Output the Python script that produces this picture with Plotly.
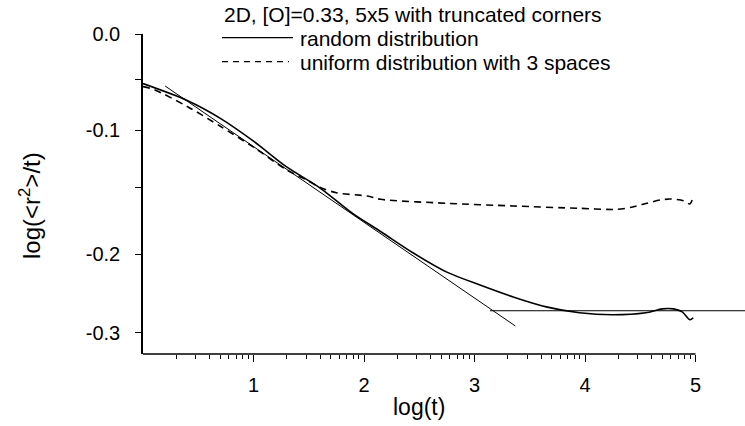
import numpy as np
import plotly.graph_objects as go

# ---- data ----
log_t_random = [0.0, 0.40, 0.70, 1.00, 1.30, 1.60, 1.90, 2.15, 2.45, 2.75, 3.05, 3.35,
                3.65, 3.95, 4.25, 4.55, 4.70, 4.80, 4.88, 4.95, 4.98]
y_random = [-0.050, -0.067, -0.085, -0.108, -0.134, -0.155, -0.181, -0.199, -0.221,
            -0.240, -0.253, -0.265, -0.275, -0.281, -0.283, -0.281, -0.277, -0.277,
            -0.280, -0.288, -0.286]

log_t_uniform = [0.0, 0.10, 0.40, 0.70, 1.00, 1.30, 1.48, 1.60, 1.75, 2.03, 2.15, 2.75,
                 3.35, 3.95, 4.29, 4.42, 4.56, 4.68, 4.77, 4.89, 4.95, 4.98]
y_uniform = [-0.053, -0.056, -0.073, -0.093, -0.114, -0.137, -0.147, -0.1545, -0.160,
             -0.1633, -0.1666, -0.1706, -0.1733, -0.1757, -0.1767, -0.1746, -0.1706,
             -0.1673, -0.1663, -0.168, -0.1713, -0.1633]

fit_steep_x = [0.20, 3.37]
fit_steep_y = [-0.0524, -0.2943]
fit_flat_x = [3.14, 5.45]
fit_flat_y = [-0.2789, -0.2789]

title_text = "2D, [O]=0.33, 5x5 with truncated corners"
series_names = ["random distribution", "uniform distribution with 3 spaces"]

x_major = [1, 2, 3, 4, 5]
x_major_text = ["1", "2", "3", "4", "5"]
y_major_ratio = [1.0, 0.8, 0.6, 0.5]
y_major_text = ["0.0", "-0.1", "-0.2", "-0.3"]
y_minor_ratio = [0.9, 0.7]

# ---- layout geometry ----
W, H = 745, 426
ML, MR, MT, MB = 143, 0, 34, 72
PW, PH = W - ML - MR, H - MT - MB
X_RANGE = [0, 5.448]
Y_RANGE = [-0.3225, 0.0]

def px_x(p):
    return (p - ML) / PW

def px_y(p):
    return (H - MB - p) / PH

FONT = "Liberation Sans, Arial, sans-serif"

x_minor = [d + np.log10(k) for d in range(5) for k in range(2, 10)]
y_major_vals = list(np.log10(y_major_ratio))
y_minor_vals = list(np.log10(y_minor_ratio))

fig = go.Figure()
fig.add_trace(go.Scatter(x=log_t_random, y=y_random, mode="lines",
                         line=dict(color="black", width=1.6, shape="spline", smoothing=0.8),
                         name=series_names[0], showlegend=False))
fig.add_trace(go.Scatter(x=log_t_uniform, y=y_uniform, mode="lines",
                         line=dict(color="black", width=1.6, dash="7px,5px", shape="spline", smoothing=0.8),
                         name=series_names[1], showlegend=False))
fig.add_trace(go.Scatter(x=fit_steep_x, y=fit_steep_y, mode="lines",
                         line=dict(color="black", width=1), showlegend=False))
fig.add_trace(go.Scatter(x=fit_flat_x, y=fit_flat_y, mode="lines",
                         line=dict(color="black", width=1), showlegend=False))

# bottom axis line spanning 0..5 only
fig.add_shape(type="line", xref="x", yref="paper", x0=0, x1=5, y0=0, y1=0,
              line=dict(color="black", width=1.5))

# legend samples
fig.add_shape(type="line", xref="paper", yref="paper", x0=px_x(222), x1=px_x(293),
              y0=px_y(37.7), y1=px_y(37.7), line=dict(color="black", width=1.2))
fig.add_shape(type="line", xref="paper", yref="paper", x0=px_x(222), x1=px_x(289),
              y0=px_y(61.7), y1=px_y(61.7), line=dict(color="black", width=1.2, dash="6px,5px"))

anns = [
    dict(text=title_text, x=px_x(222), y=px_y(14), size=21),
    dict(text=series_names[0], x=px_x(298), y=px_y(38.5), size=21),
    dict(text=series_names[1], x=px_x(298), y=px_y(62.5), size=21),
]
for a in anns:
    fig.add_annotation(text=a["text"], xref="paper", yref="paper", x=a["x"], y=a["y"],
                       xanchor="left", yanchor="middle", showarrow=False,
                       font=dict(family=FONT, size=a["size"], color="black"))

fig.add_annotation(text="log(t)", xref="x", yref="paper", x=2.5, y=px_y(407),
                   xanchor="center", yanchor="middle", showarrow=False,
                   font=dict(family=FONT, size=23, color="black"))
fig.add_annotation(text="log(&lt;r<sup>2</sup>&gt;/t)", xref="paper", yref="paper",
                   x=px_x(30), y=px_y(206), xanchor="center", yanchor="middle",
                   textangle=-90, showarrow=False,
                   font=dict(family=FONT, size=24, color="black"))

fig.update_layout(
    width=W, height=H,
    margin=dict(l=ML, r=MR, t=MT, b=MB, pad=0),
    paper_bgcolor="white", plot_bgcolor="white",
    font=dict(family=FONT, color="black"),
    showlegend=False,
    xaxis=dict(range=X_RANGE, showgrid=False, zeroline=False, showline=False,
               tickmode="array", tickvals=x_major, ticktext=x_major_text,
               ticks="outside", ticklen=7, tickwidth=1.2, tickcolor="black",
               ticklabelstandoff=6,
               tickfont=dict(family=FONT, size=20, color="black"),
               minor=dict(tickmode="array", tickvals=x_minor, ticks="outside",
                          ticklen=4, tickwidth=1, tickcolor="black", showgrid=False)),
    yaxis=dict(range=Y_RANGE, showgrid=False, zeroline=False, showline=True,
               linecolor="black", linewidth=1.5,
               tickmode="array", tickvals=y_major_vals, ticktext=y_major_text,
               ticks="outside", ticklen=6, tickwidth=1.2, tickcolor="black",
               ticklabelstandoff=11,
               tickfont=dict(family=FONT, size=20, color="black"),
               minor=dict(tickmode="array", tickvals=y_minor_vals, ticks="outside",
                          ticklen=6, tickwidth=1.2, tickcolor="black", showgrid=False)),
)

fig.write_html("out.html")
